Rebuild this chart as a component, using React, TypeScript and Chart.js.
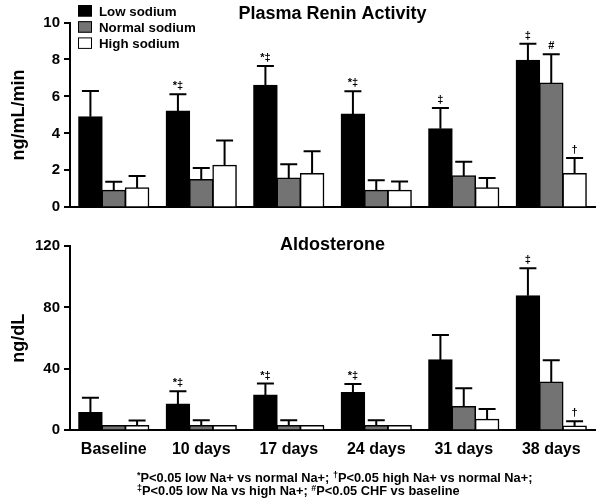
import React, { useEffect, useRef } from "react";
import { Chart, registerables } from "chart.js";

Chart.register(...registerables);

const FONT = "'Liberation Sans', Arial, Helvetica, sans-serif";

const categories = ["Baseline", "10 days", "17 days", "24 days", "31 days", "38 days"];
const seriesNames = ["Low sodium", "Normal sodium", "High sodium"];
const seriesFill = ["#000000", "#737373", "#ffffff"];

// Plasma renin activity (ng/mL/min)
const reninLow = [4.9, 5.2, 6.6, 5.05, 4.25, 7.95];
const reninNormal = [0.92, 1.5, 1.58, 0.92, 1.7, 6.72];
const reninHigh = [1.05, 2.27, 1.83, 0.92, 1.05, 1.83];
const reninLowErr = [6.3, 6.12, 7.65, 6.28, 5.38, 8.85];
const reninNormalErr = [1.38, 2.12, 2.33, 1.46, 2.46, 8.28];
const reninHighErr = [1.7, 3.62, 3.03, 1.4, 1.58, 2.67];
const reninLowSig = ["", "*‡", "*‡", "*‡", "‡", "‡"];
const reninNormalSig = ["", "", "", "", "", "#"];
const reninHighSig = ["", "", "", "", "", "†"];
const reninTicks = [0, 2, 4, 6, 8, 10];

// Aldosterone (ng/dL)
const aldoLow = [11.5, 17, 23, 24.5, 45.8, 87.6];
const aldoNormal = [3, 3, 3, 3, 15.4, 31.4];
const aldoHigh = [3, 3, 3, 3, 7.2, 2.8];
const aldoLowErr = [21.2, 25.4, 30.4, 30.1, 62, 105.5];
const aldoNormalErr = [null, 6.5, 6.5, 6.5, 27.3, 45.6];
const aldoHighErr = [6.3, null, null, null, 13.9, 5.9];
const aldoLowSig = ["", "*‡", "*‡", "*‡", "", "‡"];
const aldoNormalSig = ["", "", "", "", "", ""];
const aldoHighSig = ["", "", "", "", "", "†"];
const aldoTicks = [0, 40, 80, 120];

type PanelCfg = {
  title: string;
  titleBaseline: number;
  yTitle: string;
  values: number[][];
  errs: (number | null)[][];
  sigs: string[][];
  ticks: number[];
  max: number;
  showLegend: boolean;
  showXLabels: boolean;
  height: number;
  top: number;
  bottom: number;
};

function overlay(cfg: PanelCfg) {
  return {
    id: "overlay",
    afterDatasetsDraw(chart: any) {
      const ctx = chart.ctx;
      const y = chart.scales.y;
      ctx.save();
      ctx.strokeStyle = "#000";
      ctx.lineWidth = 2;
      ctx.fillStyle = "#000";
      ctx.font = `bold 11px ${FONT}`;
      ctx.textAlign = "center";
      ctx.textBaseline = "alphabetic";
      chart.data.datasets.forEach((_ds: any, di: number) => {
        const meta = chart.getDatasetMeta(di);
        meta.data.forEach((bar: any, i: number) => {
          const e = cfg.errs[di][i];
          const props = bar.getProps(["x", "y"], true);
          let topY = props.y;
          if (e != null) {
            const ey = y.getPixelForValue(e);
            ctx.beginPath();
            ctx.moveTo(props.x, props.y);
            ctx.lineTo(props.x, ey);
            ctx.moveTo(props.x - 8.5, ey);
            ctx.lineTo(props.x + 8.5, ey);
            ctx.stroke();
            topY = ey;
          }
          const s = cfg.sigs[di][i];
          if (s) ctx.fillText(s, props.x, topY - 5);
        });
      });
      ctx.restore();
    },
    afterDraw(chart: any) {
      const ctx = chart.ctx;
      const area = chart.chartArea;
      ctx.save();
      ctx.fillStyle = "#000";
      ctx.font = `bold 18px ${FONT}`;
      ctx.textAlign = "center";
      ctx.textBaseline = "alphabetic";
      ctx.fillText(cfg.title, (area.left + area.right) / 2, cfg.titleBaseline);
      ctx.save();
      ctx.translate(24, (area.top + area.bottom) / 2);
      ctx.rotate(-Math.PI / 2);
      ctx.fillText(cfg.yTitle, 0, 0);
      ctx.restore();
      if (cfg.showLegend) {
        ctx.font = `bold 13.3px ${FONT}`;
        ctx.textAlign = "left";
        seriesNames.forEach((name, k) => {
          const top = 5 + k * 16.2;
          ctx.fillStyle = seriesFill[k];
          ctx.fillRect(78, top, 14, 11.5);
          ctx.strokeStyle = "#000";
          ctx.lineWidth = 1;
          ctx.strokeRect(78.5, top + 0.5, 13, 10.5);
          ctx.fillStyle = "#000";
          ctx.fillText(name, 99, top + 10.5);
        });
      }
      ctx.restore();
    },
  };
}

function Panel({ cfg }: { cfg: PanelCfg }) {
  const ref = useRef<HTMLCanvasElement | null>(null);
  useEffect(() => {
    if (!ref.current) return;
    const chart = new Chart(ref.current, {
      type: "bar",
      data: {
        labels: categories,
        datasets: seriesNames.map((name, k) => ({
          label: name,
          data: cfg.values[k],
          backgroundColor: seriesFill[k],
          borderColor: "#000",
          borderWidth: 1.5,
          inflateAmount: 0.6,
          categoryPercentage: 0.8,
          barPercentage: 1.0,
        })),
      },
      options: {
        animation: false,
        responsive: false,
        devicePixelRatio: 1,
        layout: { padding: { top: cfg.top, right: 5, left: 0, bottom: 0 } },
        plugins: {
          legend: { display: false },
          tooltip: { enabled: false },
          title: { display: false },
        },
        scales: {
          x: {
            grid: { display: true, drawOnChartArea: false, drawTicks: false },
            border: { display: true, color: "#000", width: 2 },
            ticks: {
              display: cfg.showXLabels,
              color: "#000",
              padding: 10,
              maxRotation: 0,
              font: { family: FONT, size: 16, weight: "bold" },
            },
            afterFit: (s: any) => {
              s.height = cfg.height - cfg.bottom;
            },
          },
          y: {
            min: 0,
            max: cfg.max,
            afterBuildTicks: (s: any) => {
              s.ticks = cfg.ticks.map((v) => ({ value: v }));
            },
            grid: {
              display: true,
              drawOnChartArea: false,
              drawTicks: true,
              tickLength: 6,
              color: "#000",
              lineWidth: 2,
            },
            border: { display: true, color: "#000", width: 2 },
            ticks: {
              color: "#000",
              padding: 4,
              font: { family: FONT, size: 15, weight: "bold" },
            },
            afterFit: (s: any) => {
              s.width = 70;
            },
          },
        },
      },
      plugins: [overlay(cfg)],
    } as any);
    return () => chart.destroy();
  }, [cfg]);
  return <canvas ref={ref} width={600} height={cfg.height} style={{ display: "block", width: 600, height: cfg.height }} />;
}

const topCfg: PanelCfg = {
  title: "Plasma Renin Activity",
  titleBaseline: 19,
  yTitle: "ng/mL/min",
  values: [reninLow, reninNormal, reninHigh],
  errs: [reninLowErr, reninNormalErr, reninHighErr],
  sigs: [reninLowSig, reninNormalSig, reninHighSig],
  ticks: reninTicks,
  max: 10,
  showLegend: true,
  showXLabels: false,
  height: 222,
  top: 22.5,
  bottom: 207.3,
};

const bottomCfg: PanelCfg = {
  title: "Aldosterone",
  titleBaseline: 28,
  yTitle: "ng/dL",
  values: [aldoLow, aldoNormal, aldoHigh],
  errs: [aldoLowErr, aldoNormalErr, aldoHighErr],
  sigs: [aldoLowSig, aldoNormalSig, aldoHighSig],
  ticks: aldoTicks,
  max: 120,
  showLegend: false,
  showXLabels: true,
  height: 281,
  top: 24,
  bottom: 208.3,
};

const supStyle: React.CSSProperties = { fontSize: 9, position: "relative", top: -4 };
const noteStyle: React.CSSProperties = {
  position: "absolute",
  left: 137,
  fontFamily: FONT,
  fontWeight: "bold",
  fontSize: 12.8,
  lineHeight: "14px",
  color: "#000",
  whiteSpace: "nowrap",
};

export default function App() {
  return (
    <div style={{ position: "absolute", left: 0, top: 0, width: 600, height: 503, background: "#fff", overflow: "hidden" }}>
      <Panel cfg={topCfg} />
      <Panel cfg={bottomCfg} />
      <div style={{ ...noteStyle, top: 471 }}>
        <span style={supStyle}>*</span>P&lt;0.05 low Na+ vs normal Na+; <span style={supStyle}>†</span>P&lt;0.05 high Na+ vs normal Na+;
      </div>
      <div style={{ ...noteStyle, top: 484 }}>
        <span style={supStyle}>‡</span>P&lt;0.05 low Na vs high Na+; <span style={supStyle}>#</span>P&lt;0.05 CHF vs baseline
      </div>
    </div>
  );
}
